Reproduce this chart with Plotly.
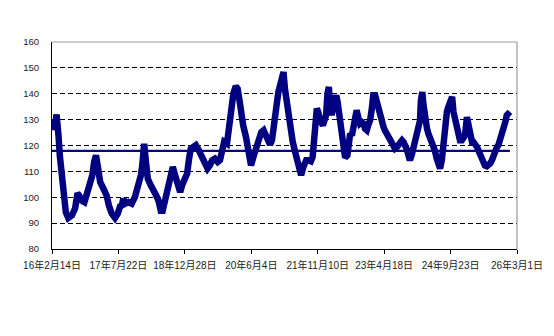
import pandas as pd
import plotly.graph_objects as go

# time, as decimal years
t_years = [
    2016.12, 2016.14, 2016.16, 2016.19, 2016.22, 2016.24, 2016.26, 2016.29, 2016.33, 2016.37,
    2016.42, 2016.47, 2016.55, 2016.62, 2016.67, 2016.71, 2016.76, 2016.82, 2016.87, 2016.94,
    2016.99, 2017.03, 2017.07, 2017.11, 2017.16, 2017.23, 2017.30, 2017.35, 2017.41, 2017.48,
    2017.54, 2017.59, 2017.63, 2017.66, 2017.70, 2017.77, 2017.84, 2017.91, 2017.99, 2018.04,
    2018.07, 2018.11, 2018.15, 2018.19, 2018.25, 2018.31, 2018.37, 2018.42, 2018.47, 2018.51,
    2018.56, 2018.61, 2018.67, 2018.73, 2018.78, 2018.83, 2018.89, 2018.94, 2018.99, 2019.04,
    2019.08, 2019.12, 2019.17, 2019.23, 2019.28, 2019.35, 2019.43, 2019.48, 2019.53, 2019.58,
    2019.64, 2019.70, 2019.75, 2019.80, 2019.84, 2019.90, 2019.93, 2019.97, 2020.00, 2020.04,
    2020.09, 2020.13, 2020.17, 2020.20, 2020.25, 2020.31, 2020.35, 2020.38, 2020.42, 2020.47,
    2020.52, 2020.58, 2020.64, 2020.69, 2020.74, 2020.79, 2020.83, 2020.87, 2020.90, 2020.94,
    2020.98, 2021.01, 2021.05, 2021.08, 2021.12, 2021.15, 2021.19, 2021.23, 2021.28, 2021.32,
    2021.37, 2021.42, 2021.46, 2021.50, 2021.55, 2021.61, 2021.66, 2021.71, 2021.75, 2021.78,
    2021.81, 2021.84, 2021.87, 2021.91, 2021.97, 2022.00, 2022.04, 2022.07, 2022.10, 2022.13,
    2022.16, 2022.21, 2022.26, 2022.29, 2022.33, 2022.36, 2022.40, 2022.45, 2022.50, 2022.52,
    2022.56, 2022.60, 2022.63, 2022.67, 2022.70, 2022.74, 2022.77, 2022.81, 2022.85, 2022.88,
    2022.92, 2022.95, 2022.99, 2023.03, 2023.06, 2023.10, 2023.14, 2023.17, 2023.21, 2023.24,
    2023.28, 2023.31, 2023.35, 2023.39, 2023.42, 2023.46, 2023.49, 2023.53, 2023.57, 2023.60,
    2023.64, 2023.68, 2023.71, 2023.75, 2023.78, 2023.82, 2023.85, 2023.89, 2023.93, 2023.96,
    2024.00, 2024.03, 2024.07, 2024.09, 2024.12, 2024.14, 2024.18, 2024.22, 2024.25, 2024.29,
    2024.32, 2024.36, 2024.39, 2024.43, 2024.47, 2024.50, 2024.54, 2024.57, 2024.61, 2024.65,
    2024.68, 2024.72, 2024.76, 2024.79, 2024.83, 2024.86, 2024.90, 2024.93, 2024.97, 2025.01,
    2025.04, 2025.08, 2025.11, 2025.15, 2025.19, 2025.22, 2025.26, 2025.30, 2025.33, 2025.37,
    2025.40, 2025.44, 2025.47, 2025.51, 2025.55, 2025.58, 2025.62, 2025.65, 2025.69, 2025.73,
    2025.76, 2025.80, 2025.83, 2025.87, 2025.91, 2025.94, 2025.98, 2026.01,
]

values = [
    130.0, 126.0, 129.0, 127.0, 132.0, 130.0, 124.0, 116.0, 107.3, 99.5,
    94.2, 92.0, 93.0, 95.6, 101.5, 100.7, 98.7, 98.1, 100.7, 104.6,
    108.5, 113.6, 116.2, 111.7, 105.9, 103.4, 100.7, 96.8, 93.7, 92.0,
    93.7, 96.5, 96.8, 99.5, 97.5, 98.1, 97.5, 100.1, 104.6, 108.5,
    112.3, 120.7, 113.6, 107.1, 104.7, 103.2, 100.7, 98.7, 94.8, 94.8,
    98.1, 102.6, 107.8, 111.7, 108.5, 104.6, 102.0, 105.2, 107.1, 109.1,
    114.9, 118.8, 119.4, 120.1, 118.5, 115.6, 111.7, 111.1, 112.3, 114.3,
    114.9, 113.6, 114.3, 118.8, 121.4, 120.7, 125.9, 128.5, 134.9, 140.1,
    142.9, 142.0, 137.5, 132.3, 127.8, 123.3, 118.1, 114.3, 112.3, 115.6,
    118.8, 122.0, 125.2, 125.9, 123.9, 120.7, 120.3, 122.0, 125.2, 130.4,
    136.8, 140.7, 143.9, 145.2, 148.4, 142.0, 136.2, 130.4, 125.2, 121.4,
    117.5, 113.6, 110.4, 108.5, 111.7, 114.3, 114.3, 113.9, 115.6, 125.2,
    131.7, 134.3, 133.0, 129.7, 127.8, 129.7, 131.7, 140.1, 142.6, 134.9,
    131.7, 136.2, 139.4, 136.8, 131.0, 123.9, 118.1, 115.3, 116.2, 122.0,
    124.6, 123.9, 127.8, 131.7, 133.6, 130.4, 128.5, 129.1, 128.5, 126.5,
    125.9, 127.8, 129.7, 134.3, 139.4, 139.4, 136.2, 134.3, 133.0, 130.4,
    127.2, 125.9, 124.6, 123.3, 122.0, 120.7, 119.4, 118.8, 119.4, 120.1,
    120.7, 122.0, 121.4, 120.1, 118.8, 116.2, 114.3, 116.2, 119.4, 123.3,
    125.2, 126.5, 129.7, 137.5, 140.7, 136.2, 129.7, 126.5, 124.6, 122.7,
    121.4, 120.1, 118.1, 114.9, 111.7, 111.1, 114.3, 120.7, 129.7, 133.0,
    134.9, 138.1, 138.8, 133.0, 129.7, 125.9, 122.7, 122.0, 122.0, 122.7,
    123.9, 131.0, 128.5, 122.7, 121.4, 121.4, 120.7, 119.4, 118.1, 116.2,
    114.3, 113.2, 112.3, 112.0, 112.3, 113.0, 114.3, 116.2, 118.1, 119.4,
    120.1, 122.0, 125.2, 127.2, 129.1, 131.7, 133.0, 133.0,
]

mean_value = 117.9

tick_dates = ["2016-02-14", "2017-07-22", "2018-12-28", "2020-06-04",
              "2021-11-10", "2023-04-18", "2024-09-23", "2026-03-01"]
tick_labels = ["16年2月14日", "17年7月22日", "18年12月28日", "20年6月4日",
               "21年11月10日", "23年4月18日", "24年9月23日", "26年3月1日"]
y_ticks = [80, 90, 100, 110, 120, 130, 140, 150, 160]


def to_date(y):
    yr = int(y)
    start = pd.Timestamp(year=yr, month=1, day=1)
    days = (pd.Timestamp(year=yr + 1, month=1, day=1) - start).days
    return (start + pd.Timedelta(days=(y - yr) * days)).normalize()


dates = [to_date(v) for v in t_years]

NAVY = "#000080"
fig = go.Figure()
fig.add_trace(go.Scatter(x=[dates[0], dates[-1]], y=[mean_value, mean_value],
                         mode="lines", line=dict(color=NAVY, width=2.2),
                         hoverinfo="skip", showlegend=False))
fig.add_trace(go.Scatter(x=dates, y=values, mode="lines",
                         line=dict(color=NAVY, width=6.5),
                         showlegend=False))

font_family = "Liberation Sans, Arial, Noto Sans CJK JP"
fig.update_layout(
    width=554, height=336,
    margin=dict(l=52, r=37, t=42, b=87),
    paper_bgcolor="white", plot_bgcolor="white",
    font=dict(family=font_family, color="#222222"),
    xaxis=dict(
        type="date",
        range=[tick_dates[0], tick_dates[-1]],
        tickvals=tick_dates, ticktext=tick_labels,
        tickangle=0,
        showgrid=False, zeroline=False,
        showline=True, linecolor="black", linewidth=1,
        ticks="outside", ticklen=4, tickcolor="black",
        ticklabelstandoff=3,
        tickfont=dict(size=10, family=font_family, color="#222222"),
    ),
    yaxis=dict(
        range=[80, 160], tickvals=y_ticks,
        showgrid=True, gridcolor="black", griddash="5px,3px", gridwidth=1,
        zeroline=False,
        showline=True, linecolor="black", linewidth=1,
        ticks="",
        ticklabelstandoff=10,
        tickfont=dict(size=9.5, family=font_family, color="#222222"),
    ),
    shapes=[
        dict(type="line", xref="paper", yref="paper", x0=0, x1=1, y0=1, y1=1,
             line=dict(color="#9a9a9a", width=1.2), layer="above"),
        dict(type="line", xref="paper", yref="paper", x0=1, x1=1, y0=0, y1=1,
             line=dict(color="#9a9a9a", width=1.2), layer="above"),
    ],
)

fig.write_html("out.html")
